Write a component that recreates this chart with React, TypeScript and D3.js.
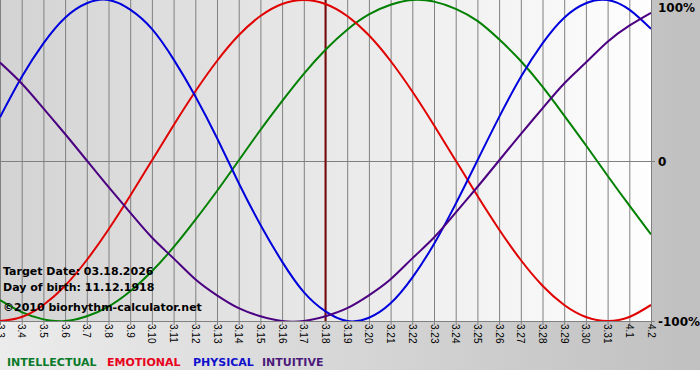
import React from "react";
import * as d3 from "d3";

const days = ["3.3","3.4","3.5","3.6","3.7","3.8","3.9","3.10","3.11","3.12","3.13","3.14","3.15","3.16","3.17","3.18","3.19","3.20","3.21","3.22","3.23","3.24","3.25","3.26","3.27","3.28","3.29","3.30","3.31","4.1","4.2"];

const intellectual = [-87,-94.5,-99,-100,-97,-91,-81.5,-69,-54,-37,-19,0,19,37,54,69,81.5,91,97,100,99,94.5,87,75.5,62,46,28,9.5,-9.5,-28,-46];
const emotional = [-100,-97.5,-90,-78,-62,-43,-22,0,22,43,62,78,90,97.5,100,97.5,90,78,62,43,22,0,-22,-43,-62,-78,-90,-97.5,-100,-97.5,-90];
const physical = [27,52,73,89,98,100,94,82,63,40,14,-14,-40,-63,-82,-94,-100,-98,-89,-73,-52,-27,0,27,52,73,89,98,100,94,82];
const intuitive = [61,48,32.5,16.5,0,-16.5,-32.5,-48,-61,-74,-84,-92,-97,-100,-100,-97,-92,-84,-74,-61,-48,-32.5,-16.5,0,16.5,32.5,48,61,74,84,92];

const seriesNames = ["INTELLECTUAL", "EMOTIONAL", "PHYSICAL", "INTUITIVE"];
const seriesColors = ["#008000", "#e00000", "#0000dd", "#4b0082"];
const legendColors = ["#0a7a2a", "#e8001c", "#1010cc", "#4b1a7a"];
const legendX = [7, 107, 193, 262];
const yTicks = [100, 0, -100];
const yTickLabels = ["100%", "0", "-100%"];
const targetDay = "3.18";
const infoLines = ["Target Date: 03.18.2026", "Day of birth: 11.12.1918", "©2010 biorhythm-calculator.net"];

export default function App() {
  const W = 700, H = 380;
  const plotW = 651, plotH = 321;
  const x = d3.scalePoint<string>().domain(days).range([0, plotW]);
  const y = d3.scaleLinear().domain([-100, 100]).range([plotH, 0]);
  const all = [intellectual, emotional, physical, intuitive];
  const line = d3
    .line<number>()
    .x((_, i) => x(days[i]) as number)
    .y((v) => y(v))
    .curve(d3.curveNatural);
  const boldFont = "'DejaVu Sans', Verdana, sans-serif";

  return (
    <div style={{ position: "absolute", left: 0, top: 0 }}>
      <svg width={W} height={H} style={{ display: "block" }}>
        <defs>
          <linearGradient id="outerBg" x1="0" x2="1" y1="0" y2="0">
            <stop offset="0" stopColor="#ececec" />
            <stop offset="1" stopColor="#c0c0c0" />
          </linearGradient>
          <linearGradient id="plotBg" x1="0" x2="1" y1="0" y2="0">
            <stop offset="0" stopColor="#d3d3d3" />
            <stop offset="1" stopColor="#fefefe" />
          </linearGradient>
          <clipPath id="plotClip">
            <rect x={0} y={0} width={plotW} height={plotH} />
          </clipPath>
        </defs>
        <rect x={0} y={0} width={W} height={370} fill="url(#outerBg)" />
        <rect x={0} y={0} width={plotW} height={plotH} fill="url(#plotBg)" />
        {days.map((d) => (
          <line
            key={"g" + d}
            x1={(x(d) as number) + 0.5}
            x2={(x(d) as number) + 0.5}
            y1={0}
            y2={plotH + 4}
            stroke="#808080"
            strokeWidth={1}
          />
        ))}
        {yTicks.filter((t) => t !== 100).map((t) => (
          <line
            key={"h" + t}
            x1={0}
            x2={plotW + 4}
            y1={Math.round(y(t)) + 0.5}
            y2={Math.round(y(t)) + 0.5}
            stroke="#808080"
            strokeWidth={1}
          />
        ))}
        <line
          x1={x(targetDay) as number}
          x2={x(targetDay) as number}
          y1={0}
          y2={plotH}
          stroke="#7a0a0a"
          strokeWidth={2}
        />
        <g clipPath="url(#plotClip)">
          {all.map((s, i) => (
            <path key={seriesNames[i]} d={line(s) || ""} fill="none" stroke={seriesColors[i]} strokeWidth={2} />
          ))}
        </g>
        {days.map((d) => (
          <text
            key={"t" + d}
            transform={`translate(${x(d) as number},${plotH + 3}) rotate(90)`}
            dy="0.35em"
            fontFamily="'Liberation Sans', Arial, sans-serif"
            fontSize={10}
            fill="#000"
          >
            {d}
          </text>
        ))}
        {yTicks.map((t, i) => (
          <text
            key={"y" + t}
            x={658}
            y={Math.max(y(t) + 1, 8)}
            dy="0.36em"
            fontFamily={boldFont}
            fontWeight="bold"
            fontSize={12}
            fill="#000"
          >
            {yTickLabels[i]}
          </text>
        ))}
        {infoLines.map((t, i) => (
          <text
            key={"i" + i}
            x={3}
            y={[275, 291, 311][i]}
            fontFamily={boldFont}
            fontWeight="bold"
            fontSize={11}
            fill="#000"
          >
            {t}
          </text>
        ))}
        {seriesNames.map((n, i) => (
          <text
            key={"l" + n}
            x={legendX[i]}
            y={366}
            fontFamily={boldFont}
            fontWeight="bold"
            fontSize={11}
            fill={legendColors[i]}
          >
            {n}
          </text>
        ))}
      </svg>
    </div>
  );
}
